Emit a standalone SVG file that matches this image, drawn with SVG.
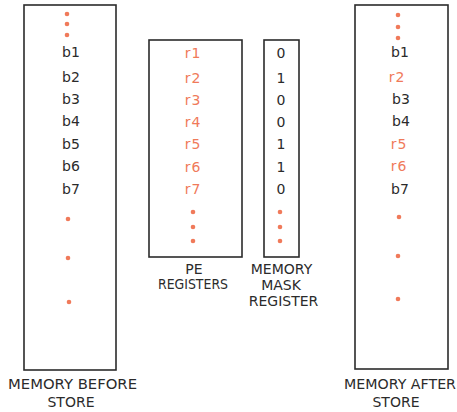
<svg xmlns="http://www.w3.org/2000/svg" width="457" height="412" viewBox="0 0 457 412">
<style>
.box{fill:none;stroke:#2b2b2b;stroke-width:1.6}
text{font-family:"DejaVu Sans","Liberation Sans",sans-serif;text-anchor:middle}
.k{fill:#2b2b2b;font-size:14px}
.o{fill:#f07a5a;font-size:14px;letter-spacing:1px}
.lbl{fill:#2b2b2b;font-size:14px}
.dot{fill:#f07a5a}
</style>
<rect width="457" height="412" fill="#ffffff"/>
<g id="memory-before">
<rect class="box" x="24" y="5" width="92" height="365"/>
<circle class="dot" cx="67" cy="14" r="2.3"/><circle class="dot" cx="67" cy="24" r="2.3"/><circle class="dot" cx="67" cy="35" r="2.3"/>
<text class="k" x="71" y="57">b1</text>
<text class="k" x="71" y="82">b2</text>
<text class="k" x="71" y="104">b3</text>
<text class="k" x="71" y="126">b4</text>
<text class="k" x="71" y="149">b5</text>
<text class="k" x="71" y="171">b6</text>
<text class="k" x="71" y="194">b7</text>
<circle class="dot" cx="68" cy="219" r="2.3"/><circle class="dot" cx="68" cy="258" r="2.3"/><circle class="dot" cx="69" cy="302" r="2.3"/>
<text class="lbl" x="72.5" y="389" textLength="129" lengthAdjust="spacingAndGlyphs">MEMORY BEFORE</text>
<text class="lbl" x="71" y="407">STORE</text>
</g>
<g id="pe-registers">
<rect class="box" x="149" y="40" width="93" height="217"/>
<text class="o" x="193" y="58">r1</text>
<text class="o" x="193" y="83">r2</text>
<text class="o" x="193" y="105">r3</text>
<text class="o" x="193" y="127">r4</text>
<text class="o" x="193" y="149">r5</text>
<text class="o" x="193" y="172">r6</text>
<text class="o" x="193" y="194">r7</text>
<circle class="dot" cx="193" cy="212" r="2.3"/><circle class="dot" cx="193" cy="227" r="2.3"/><circle class="dot" cx="193" cy="241" r="2.3"/>
<text class="lbl" x="194" y="274">PE</text>
<text class="lbl" x="193" y="289" textLength="70" lengthAdjust="spacingAndGlyphs">REGISTERS</text>
</g>
<g id="memory-mask-register">
<rect class="box" x="264" y="40" width="35" height="217"/>
<text class="k" x="281" y="58">0</text>
<text class="k" x="281" y="83">1</text>
<text class="k" x="281" y="105">0</text>
<text class="k" x="281" y="127">0</text>
<text class="k" x="281" y="149">1</text>
<text class="k" x="281" y="172">1</text>
<text class="k" x="281" y="194">0</text>
<circle class="dot" cx="280" cy="212" r="2.3"/><circle class="dot" cx="280" cy="227" r="2.3"/><circle class="dot" cx="280" cy="241" r="2.3"/>
<text class="lbl" x="281.5" y="274">MEMORY</text>
<text class="lbl" x="281" y="290">MASK</text>
<text class="lbl" x="283.5" y="306">REGISTER</text>
</g>
<g id="memory-after">
<rect class="box" x="355" y="5" width="93" height="364"/>
<circle class="dot" cx="398" cy="15" r="2.3"/><circle class="dot" cx="398" cy="27" r="2.3"/><circle class="dot" cx="398" cy="38" r="2.3"/>
<text class="k" x="400" y="57">b1</text>
<text class="o" x="397" y="82">r2</text>
<text class="k" x="401" y="104">b3</text>
<text class="k" x="401" y="126">b4</text>
<text class="o" x="399" y="149">r5</text>
<text class="o" x="399" y="171">r6</text>
<text class="k" x="400" y="194">b7</text>
<circle class="dot" cx="399" cy="217" r="2.3"/><circle class="dot" cx="398" cy="256" r="2.3"/><circle class="dot" cx="398" cy="299" r="2.3"/>
<text class="lbl" x="400" y="389" textLength="112" lengthAdjust="spacingAndGlyphs">MEMORY AFTER</text>
<text class="lbl" x="396" y="407">STORE</text>
</g>
<g id="connectors"></g>
</svg>
